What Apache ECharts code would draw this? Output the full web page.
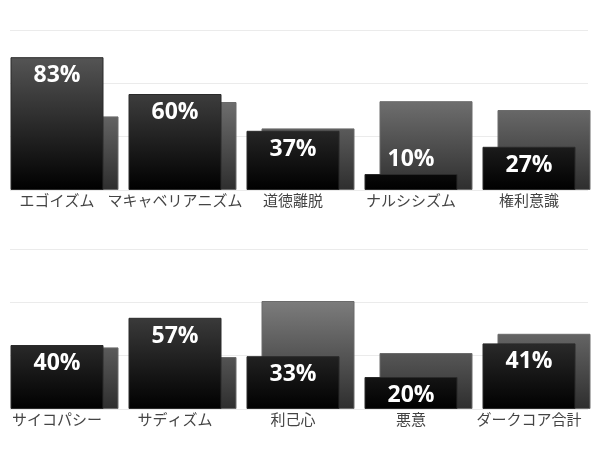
<!DOCTYPE html>
<html>
<head>
<meta charset="utf-8">
<script src="https://cdn.jsdelivr.net/npm/echarts@6/dist/echarts.min.js"></script>
<style>
html, body { margin: 0; padding: 0; background: #fff; }
#chart { width: 597px; height: 470px; }
</style>
</head>
<body>
<div id="chart"></div>
<script>
// data (percent)
var topCategories = ['エゴイズム', 'マキャベリアニズム', '道徳離脱', 'ナルシシズム', '権利意識'];
var topFront = [83, 60, 37, 10, 27];
var topBack = [46, 55, 38.5, 55.5, 50];

var bottomCategories = ['サイコパシー', 'サディズム', '利己心', '悪意', 'ダークコア合計'];
var bottomFront = [40, 57, 33, 20, 41];
var bottomBack = [38.5, 32.5, 67.5, 35, 47];

var yMax = 100;
var ySteps = 3;

var plotH = 160;
var panels = [
  { top: 30, cats: topCategories, front: topFront, back: topBack },
  { top: 249, cats: bottomCategories, front: bottomFront, back: bottomBack }
];

function grad(top, c0, c1) {
  // global gradient: same shade at the same height in every bar
  return {
    type: 'linear', global: true,
    x: 0, y: top + plotH, x2: 0, y2: top,
    colorStops: [{ offset: 0, color: c0 }, { offset: 1, color: c1 }]
  };
}

var grids = [], xAxes = [], yAxes = [], series = [];

panels.forEach(function (p) {
  var gi = grids.length;
  // gridlines
  grids.push({ left: 10, right: 9, top: p.top, height: plotH, outerBoundsMode: 'none' });
  // back bars, shifted right
  grids.push({ left: 13, width: 590, top: p.top, height: plotH, outerBoundsMode: 'none' });
  // front bars + labels
  grids.push({ left: -2, width: 590, top: p.top, height: plotH, outerBoundsMode: 'none' });

  for (var k = 0; k < 3; k++) {
    xAxes.push({
      gridIndex: gi + k,
      type: 'category',
      data: p.cats,
      show: k == 2,
      axisLine: { show: false },
      axisTick: { show: false },
      axisLabel: {
        color: '#444',
        fontSize: 15,
        fontFamily: 'Noto Sans CJK JP',
        margin: 3,
        interval: 0
      }
    });
    yAxes.push({
      gridIndex: gi + k,
      type: 'value',
      min: 0,
      max: yMax,
      interval: yMax / ySteps,
      show: k == 0,
      axisLine: { show: false },
      axisTick: { show: false },
      axisLabel: { show: false },
      splitLine: { show: k == 0, lineStyle: { color: '#ebebeb', width: 1 } }
    });
  }

  series.push({
    type: 'bar',
    xAxisIndex: gi + 1,
    yAxisIndex: gi + 1,
    data: p.back,
    barWidth: 93,
    z: 2,
    silent: true,
    itemStyle: {
      color: grad(p.top, '#2e2e2e', '#a2a2a2'),
      borderColor: '#6b6b6b',
      borderWidth: 1
    }
  });

  series.push({
    type: 'bar',
    xAxisIndex: gi + 2,
    yAxisIndex: gi + 2,
    data: p.front.map(function (v) {
      // short bars carry their label above
      return v < 15
        ? { value: v, label: { position: 'top', distance: 3 } }
        : { value: v, label: { position: 'insideTop', distance: 7 } };
    }),
    barWidth: 93,
    z: 3,
    silent: true,
    itemStyle: {
      color: grad(p.top, '#000000', '#666666'),
      borderColor: '#2a2a2a',
      borderWidth: 1
    },
    label: {
      show: true,
      formatter: '{c}%',
      color: '#fff',
      fontSize: 23,
      fontWeight: 'bold',
      fontFamily: 'Open Sans'
    }
  });
});

var chart = echarts.init(document.getElementById('chart'));
chart.setOption({
  animation: false,
  grid: grids,
  xAxis: xAxes,
  yAxis: yAxes,
  series: series
});
</script>
</body>
</html>
